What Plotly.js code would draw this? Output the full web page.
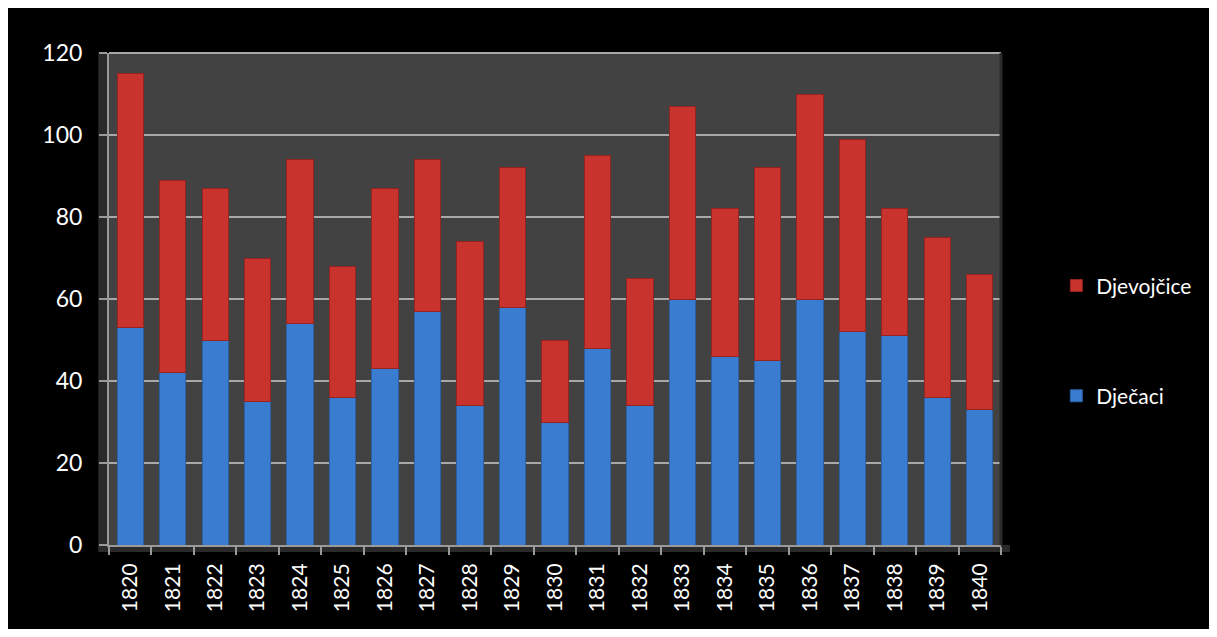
<!DOCTYPE html>
<html>
<head>
<meta charset="utf-8">
<script src="https://cdn.plot.ly/plotly-3.0.1.min.js"></script>
<style>
  html, body { margin: 0; padding: 0; background: #ffffff; }
  #chart { position: absolute; left: 8px; top: 8px; width: 1201px; height: 621px; }
</style>
</head>
<body>
<div id="chart"></div>
<script>
const years = ["1820","1821","1822","1823","1824","1825","1826","1827","1828","1829","1830",
               "1831","1832","1833","1834","1835","1836","1837","1838","1839","1840"];
const djecaci    = [53, 42, 50, 35, 54, 36, 43, 57, 34, 58, 30, 48, 34, 60, 46, 45, 60, 52, 51, 36, 33];
const djevojcice = [62, 47, 37, 35, 40, 32, 44, 37, 40, 34, 20, 47, 31, 47, 36, 47, 50, 47, 31, 39, 33];
const yTicks = [0, 20, 40, 60, 80, 100, 120];

const traces = [
  {
    type: 'bar', name: 'Dječaci', x: years, y: djecaci,
    legendgroup: 'b', legendrank: 2,
    marker: { color: '#3a7dd0', line: { color: '#2a60a6', width: 1 } },
    hoverinfo: 'x+y+name'
  },
  {
    type: 'bar', name: 'Djevojčice', x: years, y: djevojcice,
    legendgroup: 'a', legendrank: 1,
    marker: { color: '#c9332e', line: { color: '#962320', width: 1 } },
    hoverinfo: 'x+y+name'
  }
];

const layout = {
  width: 1201, height: 621,
  paper_bgcolor: '#000000',
  plot_bgcolor: '#424242',
  margin: { l: 101, r: 206, t: 45, b: 84 },
  barmode: 'stack',
  bargap: 0.38,
  font: { family: 'Lato, "Open Sans", sans-serif', color: '#ffffff' },
  showlegend: true,
  legend: {
    x: 1.062, y: 0.415, xanchor: 'left', yanchor: 'middle',
    traceorder: 'grouped', tracegroupgap: 80,
    font: { size: 21, color: '#ffffff' },
    itemwidth: 30,
    bgcolor: 'rgba(0,0,0,0)'
  },
  xaxis: {
    type: 'category',
    tickangle: -90,
    tickfont: { size: 21, color: '#ffffff' },
    ticks: 'outside', ticklen: 8, tickcolor: '#9a9a9a', tickwidth: 2,
    showline: true, linecolor: '#9a9a9a', linewidth: 2,
    showgrid: false,
    tickson: 'boundaries',
    ticklabelstandoff: 8,
    range: [-0.5, 20.5]
  },
  yaxis: {
    range: [0, 120],
    tickvals: yTicks,
    ticktext: yTicks.map(String),
    tickfont: { size: 23, color: '#ffffff' },
    ticks: 'outside', ticklen: 8, tickcolor: '#9a9a9a', tickwidth: 2,
    showline: true, linecolor: '#9a9a9a', linewidth: 2,
    showgrid: true, gridcolor: '#a8a8a8', gridwidth: 2,
    zeroline: false,
    ticklabelstandoff: 12
  },
  shapes: [
    { type: 'rect', xref: 'paper', yref: 'paper', x0: -0.012, x1: 0, y0: -0.012, y1: 1.0,
      fillcolor: '#2a2a2a', line: { width: 0 }, layer: 'below' },
    { type: 'rect', xref: 'paper', yref: 'paper', x0: -0.012, x1: 1.01, y0: -0.014, y1: 0,
      fillcolor: '#2a2a2a', line: { width: 0 }, layer: 'below' },
    { type: 'line', xref: 'paper', yref: 'paper', x0: 0, x1: 1.0, y0: 1.0, y1: 1.0,
      line: { color: '#a8a8a8', width: 2 } },
    { type: 'line', xref: 'paper', yref: 'paper', x0: 1.0, x1: 1.0, y0: 0, y1: 1.0,
      line: { color: '#2a2a2a', width: 3 } }
  ]
};

Plotly.newPlot('chart', traces, layout, { displayModeBar: false, staticPlot: true });
</script>
</body>
</html>
